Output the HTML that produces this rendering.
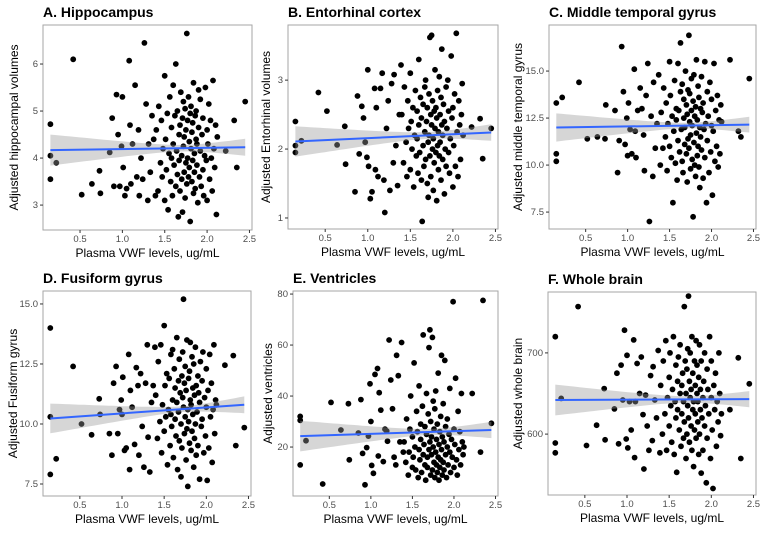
<!DOCTYPE html>
<html><head><meta charset="utf-8">
<style>
body{margin:0;background:#fff;}
svg{display:block;font-family:"Liberation Sans",Arial,sans-serif;}
</style></head>
<body>
<svg id="fig" width="767" height="534" viewBox="0 0 767 534"></svg>
<script>
const xSparse=[0.15,0.15,0.15,0.22,0.42,0.52,0.64,0.73,0.74,0.85,0.88,0.90,0.93,0.95,0.97,0.99,1.00,1.01,1.03,1.05,1.08,1.09,1.10,1.12,1.15,1.17,1.19,1.20,1.22,1.24,1.26,1.28,1.30,1.31,1.33,1.35,1.37,1.39,2.22,2.32,2.35,2.45];
const xDense=[1.40,1.42,1.43,1.45,1.46,1.47,1.48,1.50,1.50,1.51,1.52,1.53,1.54,1.55,1.56,1.57,1.58,1.58,1.59,1.60,
1.60,1.61,1.62,1.63,1.63,1.64,1.65,1.65,1.66,1.67,1.67,1.68,1.68,1.69,1.70,1.70,1.71,1.71,1.72,1.72,
1.73,1.73,1.74,1.74,1.75,1.75,1.76,1.76,1.77,1.77,1.78,1.78,1.79,1.79,1.80,1.80,1.81,1.81,1.82,1.82,
1.83,1.83,1.84,1.84,1.85,1.85,1.86,1.86,1.87,1.87,1.88,1.88,1.89,1.90,1.90,1.91,1.92,1.92,1.93,1.94,
1.95,1.95,1.96,1.97,1.98,1.99,2.00,2.00,2.01,2.02,2.03,2.04,2.05,2.06,2.07,2.08,2.09,2.10,2.11,2.12];
const vwf=xSparse.concat(xDense);
const yHippo=[4.72,4.05,3.55,3.9,6.1,3.22,3.45,3.73,3.25,4.12,4.85,3.4,5.35,4.5,3.4,4.25,5.3,3.8,3.2,3.35,6.07,4.7,3.45,4.3,5.55,3.6,4.6,3.2,4.0,3.55,6.45,5.15,3.1,4.3,3.7,4.9,4.4,3.2,4.15,4.8,3.8,5.2,
4.6,3.3,5.1,3.9,4.8,3.6,4.2,5.75,3.1,4.4,3.75,4.95,2.9,4.1,5.3,3.5,4.65,4.0,3.2,5.55,
4.3,3.85,4.9,3.4,6.0,4.15,3.65,5.0,2.75,4.5,3.95,4.7,3.3,5.4,4.05,3.55,4.85,2.85,4.25,5.2,
3.7,4.45,3.15,5.05,4.6,3.9,6.65,3.45,4.8,4.0,3.6,5.3,4.35,3.8,4.95,2.65,4.2,5.1,3.5,4.55,
3.95,4.75,3.25,5.6,4.1,3.7,4.9,3.35,4.4,5.0,3.85,4.3,3.05,5.45,4.65,3.6,4.15,5.25,3.4,4.5,
3.75,4.85,3.2,4.05,5.5,3.95,4.6,3.1,4.3,5.15,3.55,4.8,4.0,3.3,5.65,4.2,3.8,4.7,2.8,4.45];
const yEnto=[2.4,2.05,1.95,2.12,2.82,2.55,2.06,2.33,1.78,1.38,2.77,1.93,2.62,2.45,2.1,1.88,3.15,1.75,1.28,1.38,2.88,1.7,2.6,1.6,2.88,3.1,1.55,1.08,2.3,2.7,1.4,2.95,1.8,3.08,2.05,1.47,2.5,3.22,2.32,2.44,1.86,2.3,
2.5,1.8,2.9,2.1,1.6,2.7,2.3,3.1,1.7,2.4,2.0,2.6,1.45,2.2,2.85,1.9,2.55,2.15,1.65,3.3,
2.35,1.95,2.75,1.55,2.45,0.95,2.05,2.65,1.75,2.25,2.9,1.85,3.0,2.4,1.5,2.6,2.1,1.3,2.8,2.2,
3.62,1.9,2.5,1.6,2.35,3.65,2.0,2.7,1.4,2.15,2.55,1.8,3.15,2.3,1.95,2.6,1.25,2.45,2.05,2.85,
1.7,2.25,3.05,1.9,2.5,2.1,1.55,2.75,2.35,3.45,1.85,2.2,2.65,1.35,2.4,2.0,2.9,1.75,2.3,3.0,
1.95,2.55,1.65,2.15,3.35,2.45,1.45,2.6,2.05,2.8,1.75,3.68,2.25,1.6,2.7,2.35,1.85,2.5,2.95,2.2];
const yMtg=[13.3,10.6,10.2,13.6,14.4,11.4,11.5,11.4,13.2,12.9,9.6,11.3,16.3,13.9,11.1,12.5,10.5,13.3,11.9,10.6,15.1,11.8,10.4,12.9,14.1,13.0,11.6,9.7,13.7,15.4,7.0,12.6,9.4,14.4,10.9,12.2,14.8,10.0,15.6,11.8,11.5,14.6,
12.8,10.9,14.1,11.5,13.3,9.7,12.2,15.5,11.0,13.7,10.4,12.6,8.0,11.8,14.5,10.1,13.0,12.4,9.2,15.4,
11.3,12.9,10.7,13.9,16.5,11.9,10.2,14.3,9.6,12.5,13.5,11.1,12.0,15.0,10.6,13.2,9.1,12.7,11.4,14.0,
16.9,10.9,12.3,13.8,9.8,11.6,12.9,14.6,10.3,12.1,7.25,13.4,11.2,14.8,10.0,12.6,9.4,13.1,11.7,15.6,
10.5,12.4,14.2,11.0,13.6,9.9,12.0,8.8,13.0,11.5,14.7,10.8,12.8,9.3,13.3,11.9,15.5,10.4,12.2,8.0,
13.9,11.3,12.6,9.6,14.4,10.7,12.1,13.5,8.4,11.8,15.4,10.2,12.9,11.0,13.7,9.9,12.4,10.6,13.2,12.3];
const yFusi=[14.0,10.3,7.9,8.55,12.4,10.0,9.55,11.05,10.4,9.6,8.7,11.7,12.4,9.6,10.6,11.0,10.4,11.95,8.9,9.0,12.9,8.1,11.4,10.7,9.15,12.35,11.6,8.7,12.1,9.9,8.2,11.7,13.3,9.45,8.0,10.9,11.6,13.2,12.45,12.85,9.1,9.85,
11.2,9.4,12.6,10.1,13.3,8.8,10.8,14.1,9.7,11.6,10.3,12.1,8.3,10.6,11.9,9.1,12.9,10.4,9.9,13.1,
11.0,8.6,12.3,10.2,11.5,9.5,13.6,10.9,8.1,11.8,10.5,12.7,9.3,11.3,7.8,10.0,12.0,9.0,11.1,13.0,
10.7,15.2,9.6,11.7,10.3,12.4,8.5,11.4,9.8,13.5,10.6,7.4,11.9,10.1,12.2,9.2,11.0,13.4,8.9,10.8,
12.8,9.7,11.5,10.4,8.2,12.5,11.2,9.4,10.0,13.2,11.6,8.7,10.5,12.0,9.1,11.3,10.9,7.7,12.6,9.9,
11.8,10.2,13.0,8.8,11.1,9.5,12.3,10.7,7.65,11.4,9.0,12.9,10.3,11.7,8.4,10.6,13.3,9.6,11.0,10.8];
const yVent=[32,30.5,13,22.5,5.5,37.5,26.7,37,15,25.5,38.6,17.5,5.2,19.8,24.3,44.8,30,12.8,9.7,48.5,50.8,16.5,41.3,34.5,14.3,27,26.3,22.3,62,46.3,35,16,13,56,48,22,61,18,41,18,77.5,29.3,
22,14,31,9,18,27,40,12,24,16,53,20,11,34,26,8,19,44,15,29,
23,10,36,17,64,21,13,28,7,25,41,16,12,33,19,59,22,66,9,30,
17,24,63,11,38,20,14,27,8,35,18,42,13,23,10,29,16,49,21,7,
26,12,32,15,56,19,9,24,37,14,22,11,54,28,17,8,20,31,13,25,
18,43,10,23,16,77,27,12,21,47,15,9,34,19,26,13,41,22,17,20];
const yWhole=[720,589,577,644,757,586,611,656,593,631,675,588,685,642,728,594,697,583,640,605,716,571,640,687,650,695,624,557,648,610,580,672,592,683,642,620,703,577,630,694,570,662,
660,600,690,625,715,580,645,670,610,700,635,590,655,720,575,640,685,620,553,665,
630,695,605,650,710,585,660,625,675,595,640,757,615,690,570,650,680,600,635,705,
770,620,665,590,645,700,610,655,580,720,630,675,560,640,690,605,660,625,715,595,
650,685,615,640,575,670,600,710,630,655,552,690,620,645,580,665,700,610,635,540,
680,595,655,625,720,570,645,690,605,533,660,630,675,585,640,615,700,650,598,625];
const xTicks=[0.5,1.0,1.5,2.0,2.5];
const xTickLabels=["0.5","1.0","1.5","2.0","2.5"];
const ticksA=[3,4,5,6], labelsA=["3","4","5","6"];
const ticksB=[1,2,3], labelsB=["1","2","3"];
const ticksC=[7.5,10,12.5,15], labelsC=["7.5","10.0","12.5","15.0"];
const ticksD=[7.5,10,12.5,15], labelsD=["7.5","10.0","12.5","15.0"];
const ticksE=[20,40,60,80], labelsE=["20","40","60","80"];
const ticksF=[600,700], labelsF=["600","700"];
const fitA=[4.17,4.23], bandA=[0.33,0.07,0.18];
const fitB=[2.11,2.24], bandB=[0.22,0.05,0.12];
const fitC=[12.0,12.15], bandC=[0.75,0.15,0.42];
const fitD=[10.23,10.8], bandD=[0.62,0.12,0.35];
const fitE=[24.3,26.7], bandE=[6,1.2,3.2];
const fitF=[642,643], bandF=[19,4,10];

const NS="http://www.w3.org/2000/svg";
const svg=document.getElementById('fig');
function mk(tag,attrs,parent){const e=document.createElementNS(NS,tag);for(const k in attrs)e.setAttribute(k,attrs[k]);(parent||svg).appendChild(e);return e;}
const panels=[
 {id:'a',title:'A. Hippocampus',ylab:'Adjusted hippocampal volumes',L:43,R:252,T:25,B:230,y0:2.47,y1:6.83,ys:yHippo,ticks:ticksA,labels:labelsA,fit:fitA,band:bandA,ylx:14},
 {id:'b',title:'B. Entorhinal cortex',ylab:'Adjusted Entorhinal volumes',L:288,R:498,T:25,B:229,y0:0.84,y1:3.80,ys:yEnto,ticks:ticksB,labels:labelsB,fit:fitB,band:bandB,ylx:266},
 {id:'c',title:'C. Middle temporal gyrus',ylab:'Adjusted middle temporal gyrus',L:549,R:756,T:25,B:229,y0:6.6,y1:17.45,ys:yMtg,ticks:ticksC,labels:labelsC,fit:fitC,band:bandC,ylx:518},
 {id:'d',title:'D. Fusiform gyrus',ylab:'Adjusted Fusiform gyrus',L:43,R:251,T:291,B:496,y0:7.0,y1:15.54,ys:yFusi,ticks:ticksD,labels:labelsD,fit:fitD,band:bandD,ylx:13},
 {id:'e',title:'E. Ventricles',ylab:'Adjusted ventricles',L:293,R:498,T:291,B:496,y0:0.8,y1:81.2,ys:yVent,ticks:ticksE,labels:labelsE,fit:fitE,band:bandE,ylx:268},
 {id:'f',title:'F. Whole brain',ylab:'Adjusted whole brain',L:548,R:756,T:292,B:495,y0:525,y1:775,ys:yWhole,ticks:ticksF,labels:labelsF,fit:fitF,band:bandF,ylx:518}
];
const X0=0.063,X1=2.53,XM=1.72,XA=0.15,XB=2.45;
panels.forEach(p=>{
 const g=mk('g',{});
 
 
 const sx=v=>p.L+(v-X0)/(X1-X0)*(p.R-p.L);
 const sy=v=>p.B-(v-p.y0)/(p.y1-p.y0)*(p.B-p.T);
 const t=mk('text',{x:p.L,y:p.T-8,'font-size':14,'font-weight':'bold',fill:'#000'},g);t.textContent=p.title;
 
 
 const pts=mk('g',{},g);
 
 
 p.ys.forEach((v,i)=>{const c=mk('circle',{cx:sx(vwf[i]).toFixed(1),cy:sy(v).toFixed(1),r:2.9,fill:'#000'},pts);
  
  });
 const fy=x=>p.fit[0]+(x-XA)/(XB-XA)*(p.fit[1]-p.fit[0]);
 const c=p.band[1];
 const kl=(p.band[0]**2-c*c)/((XM-XA)**2), kr=(p.band[2]**2-c*c)/((XB-XM)**2);
 const hw=x=>Math.sqrt(c*c+(x<XM?kl:kr)*(x-XM)**2);
 let up=[],lo=[];
 for(let i=0;i<=40;i++){const x=XA+(XB-XA)*i/40;up.push(sx(x).toFixed(1)+','+sy(fy(x)+hw(x)).toFixed(1));lo.unshift(sx(x).toFixed(1)+','+sy(fy(x)-hw(x)).toFixed(1));}
 const band=mk('polygon',{points:up.concat(lo).join(' '),fill:'#999',opacity:0.4},g);
 
 
 const ln=mk('line',{x1:sx(XA),y1:sy(fy(XA)),x2:sx(XB),y2:sy(fy(XB)),stroke:'#3366FF','stroke-width':2},g);
 
 
 const fr=mk('rect',{x:p.L,y:p.T,width:p.R-p.L,height:p.B-p.T,fill:'none',stroke:'#a6a6a6','stroke-width':1},g);
 
 
 xTicks.forEach((v,i)=>{const x=sx(v);mk('line',{x1:x,x2:x,y1:p.B,y2:p.B+3,stroke:'#333'},g);
  const tl=mk('text',{x:x,y:p.B+12,'font-size':9.5,fill:'#4d4d4d','text-anchor':'middle'},g);tl.textContent=xTickLabels[i];
  
  });
 p.ticks.forEach((v,i)=>{const y=sy(v);mk('line',{x1:p.L-3,x2:p.L,y1:y,y2:y,stroke:'#333'},g);
  const tl=mk('text',{x:p.L-5,y:y+3,'font-size':9.5,fill:'#4d4d4d','text-anchor':'end'},g);tl.textContent=p.labels[i];
  
  });
 const xl=mk('text',{x:(p.L+p.R)/2,y:p.B+27,'font-size':12,fill:'#000','text-anchor':'middle'},g);xl.textContent='Plasma VWF levels, ug/mL';
 
 
 const cy=(p.T+p.B)/2;
 const yl=mk('text',{x:p.ylx,y:cy,'font-size':12,fill:'#000','text-anchor':'middle',transform:'rotate(-90 '+p.ylx+' '+cy+')','dominant-baseline':'central'},g);yl.textContent=p.ylab;
 
 
});
</script>
</body></html>
